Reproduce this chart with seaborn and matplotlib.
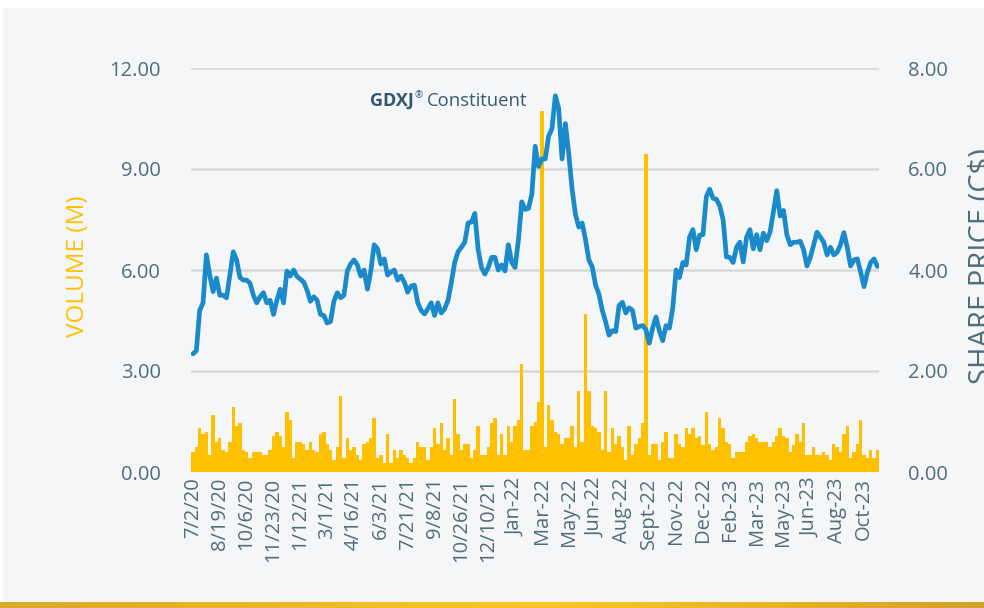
import numpy as np
import pandas as pd
import matplotlib
matplotlib.use("Agg")
import matplotlib.pyplot as plt
import seaborn as sns
from matplotlib.patches import Rectangle
from matplotlib.colors import LinearSegmentedColormap
from matplotlib.ticker import FormatStrFormatter

# ---------------- data ----------------
tick_labels = ["7/2/20", "8/19/20", "10/6/20", "11/23/20", "1/12/21", "3/1/21",
               "4/16/21", "6/3/21", "7/21/21", "9/8/21", "10/26/21", "12/10/21",
               "Jan-22", "Mar-22", "May-22", "Jun-22", "Aug-22", "Sept-22",
               "Nov-22", "Dec-22", "Feb-23", "Mar-23", "May-23", "Jun-23",
               "Aug-23", "Oct-23"]
tick_step = 8  # observations between labelled ticks

volume_m = [
    0.60, 0.75, 1.30, 1.13, 1.20, 0.50, 1.70, 0.90, 1.00, 0.65,
    0.60, 0.90, 1.93, 1.37, 1.45, 0.65, 0.60, 0.43, 0.60, 0.60,
    0.60, 0.50, 0.50, 0.65, 1.07, 1.20, 1.07, 0.75, 1.78, 1.55,
    0.43, 0.90, 0.90, 0.83, 0.65, 0.90, 0.65, 0.60, 1.13, 1.20,
    0.83, 0.65, 0.36, 0.75, 2.26, 0.43, 1.00, 0.65, 0.75, 0.50,
    0.36, 0.83, 0.90, 1.00, 1.60, 0.43, 0.50, 0.28, 1.13, 0.28,
    0.65, 0.43, 0.65, 0.50, 0.43, 0.28, 0.43, 0.90, 0.75, 0.75,
    0.36, 0.75, 1.30, 0.83, 1.45, 0.65, 1.00, 0.50, 2.17, 1.13,
    0.65, 0.83, 0.83, 0.43, 0.65, 1.37, 0.50, 0.50, 0.75, 1.45,
    1.60, 0.50, 1.13, 0.50, 1.37, 0.90, 1.37, 1.55, 3.20, 0.65,
    0.65, 1.37, 1.50, 2.08, 10.72, 0.75, 2.00, 1.55, 1.20, 1.13,
    0.83, 1.00, 1.00, 1.37, 0.75, 2.40, 0.90, 4.69, 2.40, 1.37,
    1.30, 1.20, 0.65, 2.40, 0.60, 1.30, 0.83, 1.07, 0.75, 0.36,
    1.37, 0.50, 0.83, 1.00, 1.45, 9.44, 0.50, 0.83, 0.83, 0.36,
    0.90, 1.20, 0.43, 0.43, 1.13, 0.83, 0.75, 1.30, 1.13, 1.30,
    1.00, 1.07, 0.80, 1.78, 0.83, 0.65, 0.75, 1.60, 1.30, 0.90,
    0.83, 0.43, 0.60, 0.60, 0.60, 0.90, 1.07, 1.13, 1.00, 0.90,
    0.90, 0.90, 0.75, 0.90, 1.07, 1.30, 1.07, 1.00, 0.60, 0.80,
    1.13, 0.90, 1.45, 0.50, 0.50, 0.75, 0.50, 0.50, 0.60, 0.50,
    0.36, 0.83, 0.75, 0.60, 1.13, 1.37, 0.43, 0.60, 0.83, 1.55,
    0.50, 0.43, 0.65, 0.43, 0.65,
]

price_cad = [
    2.34, 2.40, 3.20, 3.35, 4.30, 3.90, 3.57, 3.84, 3.50, 3.50,
    3.45, 3.90, 4.36, 4.20, 3.85, 3.80, 3.80, 3.74, 3.50, 3.35,
    3.47, 3.55, 3.35, 3.40, 3.12, 3.40, 3.62, 3.35, 3.98, 3.88,
    4.00, 3.87, 3.82, 3.76, 3.60, 3.38, 3.47, 3.40, 3.12, 3.10,
    2.95, 2.98, 3.38, 3.55, 3.45, 3.50, 3.98, 4.12, 4.20, 4.10,
    3.88, 4.00, 3.62, 3.98, 4.50, 4.42, 4.12, 4.22, 3.90, 3.96,
    4.00, 3.80, 3.88, 3.76, 3.56, 3.68, 3.70, 3.35, 3.20, 3.13,
    3.23, 3.35, 3.10, 3.35, 3.15, 3.23, 3.40, 3.75, 4.15, 4.36,
    4.45, 4.55, 4.93, 4.95, 5.12, 4.40, 4.05, 3.92, 4.05, 4.25,
    4.25, 4.00, 4.10, 3.98, 4.50, 4.15, 4.05, 4.60, 5.35, 5.20,
    5.22, 5.50, 6.45, 6.05, 6.20, 6.20, 6.65, 6.80, 7.45, 7.20,
    6.20, 6.90, 6.30, 5.60, 5.10, 4.85, 4.93, 4.60, 4.20, 4.06,
    3.70, 3.52, 3.20, 2.97, 2.71, 2.80, 2.78, 3.30, 3.36, 3.15,
    3.25, 3.20, 2.85, 2.88, 2.90, 2.82, 2.55, 2.85, 3.07, 2.80,
    2.60, 2.90, 2.85, 3.25, 4.00, 3.85, 4.15, 4.10, 4.65, 4.80,
    4.40, 4.69, 4.70, 5.45, 5.60, 5.42, 5.40, 5.27, 5.00, 4.26,
    4.25, 4.15, 4.45, 4.55, 4.16, 4.65, 4.80, 4.42, 4.70, 4.40,
    4.73, 4.58, 4.75, 5.15, 5.57, 5.07, 5.18, 4.70, 4.50, 4.55,
    4.55, 4.57, 4.40, 4.08, 4.25, 4.50, 4.75, 4.65, 4.55, 4.30,
    4.45, 4.30, 4.35, 4.50, 4.74, 4.45, 4.08, 4.20, 4.22, 3.96,
    3.67, 3.95, 4.15, 4.22, 4.07,
]

left_ticks = [0, 3, 6, 9, 12]
right_ticks = [0, 2, 4, 6, 8]

# ---------------- style ----------------
sns.set_style("white")
plt.rcParams['font.family'] = ['Open Sans', 'DejaVu Sans']

BAR = '#FFC000'
LINE = '#1B8ACB'
TXT = '#4F6D7A'
GRID = '#D9D9D9'
PANEL = '#F5F6F8'

W, H = 984, 608
fig = plt.figure(figsize=(W / 100, H / 100), dpi=100, facecolor='white')

# light panel (behind everything)
fig.patches.append(Rectangle((3 / W, 6 / H), 1, 594 / H, transform=fig.transFigure,
                             facecolor=PANEL, edgecolor='none', zorder=-10))

# gold gradient strip at the bottom
axg = fig.add_axes([0, 0, 1, 6 / H])
cmap = LinearSegmentedColormap.from_list(
    'gold', [(0, '#D8A92C'), (0.55, '#FFC623'), (1, '#D3A22B')])
axg.imshow(np.linspace(0, 1, 400)[None, :], aspect='auto', cmap=cmap,
           extent=[0, 1, 0, 1])
axg.axis('off')

# main axes
x0, x1, ytop, ybot = 191.3, 879.1, 68, 472
ax = fig.add_axes([x0 / W, (H - ybot) / H, (x1 - x0) / W, (ybot - ytop) / H])
ax.patch.set_visible(False)

df_v = pd.DataFrame({'obs': np.arange(len(volume_m)), 'volume': volume_m})
sns.barplot(data=df_v, x='obs', y='volume', color=BAR, saturation=1,
            width=1.0, linewidth=0, errorbar=None, native_scale=True, ax=ax,
            zorder=2)
ax.set_xlim(-0.5, len(volume_m) - 0.5)
ax.set_ylim(0, 12)
ax.set_yticks(left_ticks)
ax.yaxis.set_major_formatter(FormatStrFormatter('%.2f'))
ax.yaxis.grid(True, color=GRID, lw=1.8, zorder=0)
ax.xaxis.grid(False)
ax.set_axisbelow(True)
ax.set_xticks(np.arange(len(tick_labels)) * tick_step)
ax.set_xticklabels(tick_labels, rotation=90)
ax.tick_params(axis='x', length=0, pad=4, labelsize=14.5, labelcolor=TXT)
ax.tick_params(axis='y', length=0, pad=22, labelsize=14.5, labelcolor=TXT)
ax.set_xlabel('')
ax.set_ylabel('')

ax2 = ax.twinx()
ax2.patch.set_visible(False)
df_p = pd.DataFrame({'obs': np.arange(len(price_cad)), 'price': price_cad})
sns.lineplot(data=df_p, x='obs', y='price', color=LINE, lw=3.4, ax=ax2,
             solid_joinstyle='round', solid_capstyle='round')
ax2.set_ylim(0, 8)
ax2.set_yticks(right_ticks)
ax2.yaxis.set_major_formatter(FormatStrFormatter('%.2f'))
ax2.tick_params(axis='y', length=0, pad=21, labelsize=14.5, labelcolor=TXT)
ax2.set_xlabel('')
ax2.set_ylabel('')
ax2.grid(False)
ax.set_xlim(-0.5, len(volume_m) - 0.5)

for a in (ax, ax2):
    for s in a.spines.values():
        s.set_visible(False)

# axis titles
fig.text(78 / W, 1 - 266 / H, "VOLUME (M)", rotation=90, ha='center',
         va='center', color=BAR, fontsize=17.5)
fig.text(967 / W, 1 - 266 / H, "SHARE PRICE (C$)", rotation=90, ha='left',
         va='center', color=TXT, fontsize=21)

# annotation: GDXJ® Constituent
ANN = '#2F5573'
fig.canvas.draw()
r = fig.canvas.get_renderer()
base_y = 1 - 106 / H
t1 = fig.text(370 / W, base_y, "GDXJ", fontsize=13, fontweight='bold',
              color=ANN, va='baseline', ha='left')
e1 = t1.get_window_extent(r)
t2 = fig.text((e1.x1 + 1) / W, base_y + 8 / H, "®", fontsize=7,
              color=ANN, va='baseline', ha='left')
e2 = t2.get_window_extent(r)
fig.text((e2.x1 + 4) / W, base_y, "Constituent", fontsize=13.3,
         color='#3A5A72', va='baseline', ha='left')

fig.savefig("out.png", dpi=100, facecolor='white')
